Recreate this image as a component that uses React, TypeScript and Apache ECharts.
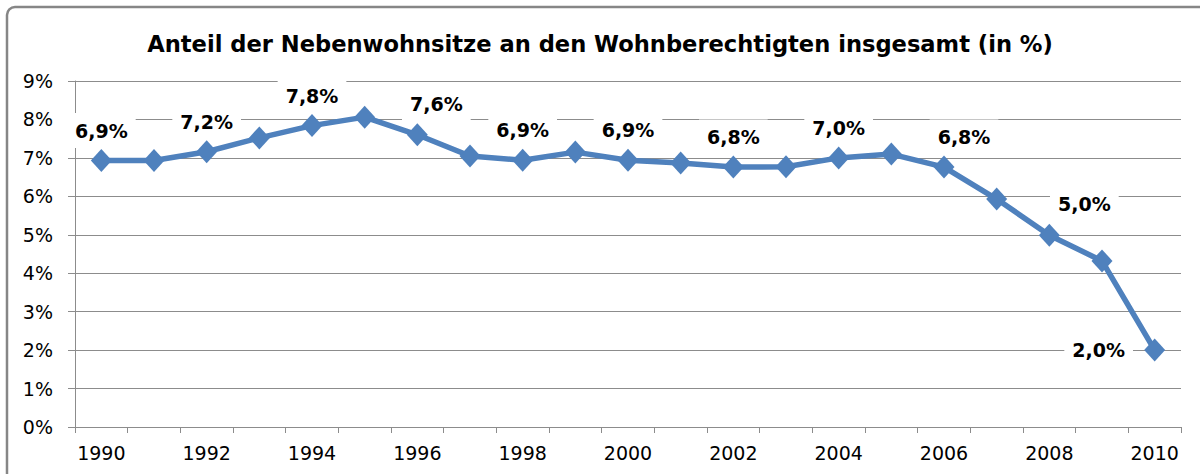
import React, { useEffect, useRef } from "react";
import * as echarts from "echarts";

const years: string[] = [
  "1990", "1991", "1992", "1993", "1994", "1995", "1996", "1997", "1998", "1999", "2000",
  "2001", "2002", "2003", "2004", "2005", "2006", "2007", "2008", "2009", "2010",
];
const shares: number[] = [
  6.93, 6.93, 7.16, 7.52, 7.84, 8.06, 7.6, 7.05, 6.94, 7.15, 6.94,
  6.87, 6.76, 6.77, 7.0, 7.1, 6.76, 5.93, 4.99, 4.32, 2.0,
];
const labelledYears: string[] = ["1990", "1992", "1994", "1996", "1998", "2000", "2002", "2004", "2006", "2008", "2010"];
const labelOffsets: Record<string, [number, number]> = {
  "1996": [19, -31],
  "2006": [20, -30],
  "2008": [35, -31],
  "2010": [-56, 0],
};
const yTicks: number[] = [0, 1, 2, 3, 4, 5, 6, 7, 8, 9];
const title = "Anteil der Nebenwohnsitze an den Wohnberechtigten insgesamt (in %)";

const FONT = "DejaVu Sans";

export default function App() {
  const ref = useRef<HTMLDivElement>(null);
  useEffect(() => {
    if (!ref.current) return;
    const chart = echarts.init(ref.current, undefined, { renderer: "svg" });
    const data = years.map((y, i) => {
      const show = labelledYears.includes(y);
      return {
        value: shares[i],
        label: {
          show,
          position: "inside",
          offset: labelOffsets[y] || [0, -30],
        },
      };
    });
    chart.setOption({
      animation: false,
      backgroundColor: "#ffffff",
      title: {
        text: title,
        left: "center",
        top: 27,
        textStyle: { fontFamily: FONT, fontSize: 22.6, fontWeight: "bold", color: "#000" },
      },
      graphic: [
        {
          type: "rect",
          shape: { x: 7, y: 7, width: 1400, height: 700, r: 8 },
          style: { fill: "none", stroke: "#868686", lineWidth: 2.5 },
          silent: true,
        },
      ],
      grid: { left: 75, right: 19, top: 81, bottom: 47, containLabel: false },
      xAxis: {
        type: "category",
        data: years,
        boundaryGap: true,
        axisLine: { show: true, lineStyle: { color: "#8c8c8c", width: 1 } },
        axisTick: { show: true, interval: 0, length: 6, lineStyle: { color: "#8c8c8c" } },
        axisLabel: { interval: 1, margin: 16, fontFamily: FONT, fontSize: 19, color: "#000" },
        splitLine: { show: false },
      },
      yAxis: {
        type: "value",
        min: yTicks[0],
        max: yTicks[yTicks.length - 1],
        interval: 1,
        axisLine: { show: true, lineStyle: { color: "#8c8c8c", width: 1 } },
        axisTick: { show: true, length: 7, lineStyle: { color: "#8c8c8c" } },
        axisLabel: {
          margin: 22,
          fontFamily: FONT,
          fontSize: 19,
          color: "#000",
          formatter: (v: number) => `${v}%`,
        },
        splitLine: { show: true, lineStyle: { color: "#8c8c8c", width: 1 } },
      },
      series: [
        {
          type: "line",
          data,
          symbol: "diamond",
          symbolSize: [21, 23],
          lineStyle: { color: "#4F81BD", width: 5.5 },
          itemStyle: { color: "#4F81BD" },
          label: {
            fontFamily: FONT,
            fontSize: 19,
            fontWeight: "bold",
            color: "#000",
            backgroundColor: "#ffffff",
            padding: [8, 8],
            formatter: (p: any) => `${Number(p.value).toFixed(1).replace(".", ",")}%`,
          },
          z: 3,
        },
      ],
    });
    return () => chart.dispose();
  }, []);
  return (
    <div
      ref={ref}
      style={{ position: "fixed", left: 0, top: 0, width: 1200, height: 474, background: "#fff" }}
    />
  );
}
